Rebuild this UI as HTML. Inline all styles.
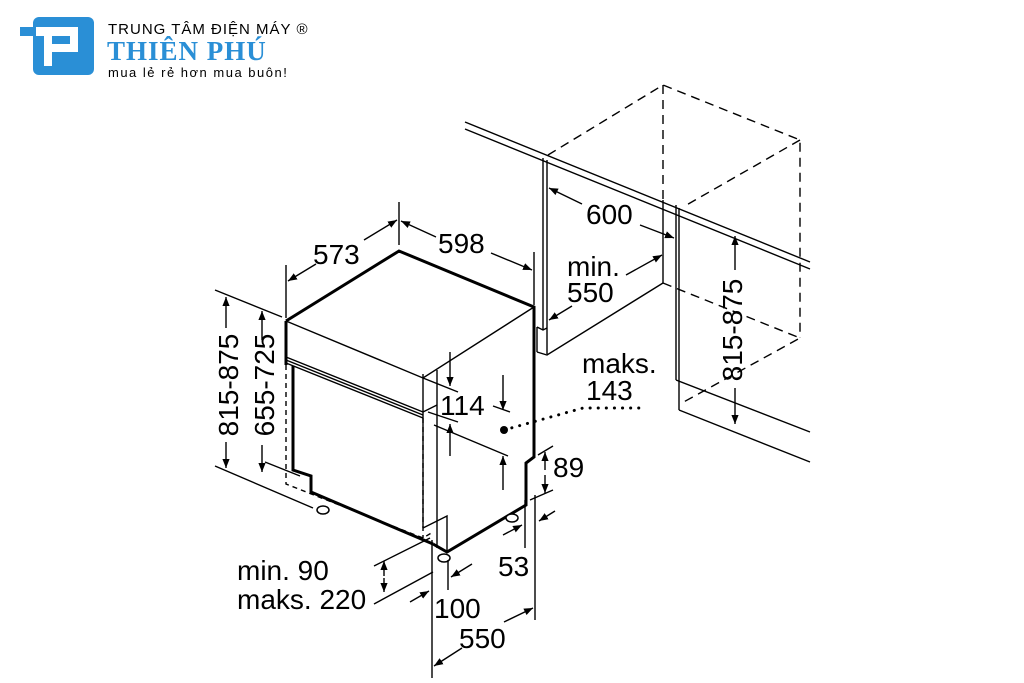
<!DOCTYPE html>
<html><head><meta charset="utf-8"><style>
html,body{margin:0;padding:0;background:#fff;width:1024px;height:683px;overflow:hidden}
svg{display:block}
text{font-family:"Liberation Sans",sans-serif;fill:#000}
</style></head><body>
<svg width="1024" height="683" viewBox="0 0 1024 683" xmlns="http://www.w3.org/2000/svg">
<defs>
<marker id="a" viewBox="0 0 10 10" refX="10" refY="5" markerWidth="9" markerHeight="9" orient="auto-start-reverse" markerUnits="userSpaceOnUse"><path d="M0,1 L10,5 L0,9 z" fill="#000"/></marker>
</defs>
<!-- logo -->
<rect x="33" y="17" width="61" height="58" rx="6" fill="#2a8fd6"/>
<rect x="20" y="27" width="16" height="9" fill="#2a8fd6"/>
<path d="M36 27 H78 V52 H52 V66 H44 V36 H36 z" fill="#fff"/>
<rect x="52" y="36" width="18" height="8" fill="#2a8fd6"/>
<text x="108" y="34" font-size="15" letter-spacing="1">TRUNG TÂM ĐIỆN MÁY ®</text>
<text x="107" y="60" font-size="27" font-weight="bold" fill="#2a8fd6" style="fill:#2a8fd6;font-family:'Liberation Serif',serif" letter-spacing="1">THIÊN PHÚ</text>
<text x="108" y="77" font-size="13" letter-spacing="1.5">mua lẻ rẻ hơn mua buôn!</text>

<g fill="none" stroke="#000" stroke-width="1.4">
<line x1="465" y1="122" x2="810" y2="262"/>
<line x1="465" y1="129" x2="810" y2="269"/>
<line x1="543" y1="158" x2="543" y2="330"/>
<line x1="547" y1="160" x2="547" y2="354"/>
<path d="M537 327 L543 330 L547 328"/>
<line x1="537" y1="327" x2="537" y2="352"/>
<path d="M537 352 L547 355 L663 283"/>
<line x1="663" y1="200" x2="663" y2="283"/>
<line x1="676" y1="205" x2="676" y2="380"/>
<line x1="679" y1="208" x2="679" y2="410"/>
<path d="M676 380 L810 432"/>
<path d="M679 410 L810 462"/>
</g>
<g fill="none" stroke="#000" stroke-width="1.4" stroke-dasharray="9,6">
<path d="M548 155 L663 85 L800 140 L800 338"/>
<line x1="663" y1="85" x2="663" y2="200"/>
<path d="M663 283 L800 338 L680 404"/>
<line x1="800" y1="140" x2="683" y2="207"/>
</g>

<g fill="none" stroke="#000" stroke-width="3">
<path d="M286 321 L399 251 L534 307 L534 457 L526 463 L526 505 L447 552 L433 544"/>
<path d="M286 321 L286 365"/>
<path d="M293 366 L293 470 L311 476 L311 492 L433 544"/>
</g>
<g fill="none" stroke="#000" stroke-width="1.4">
<path d="M286 321 L423 378 L534 307"/>
<line x1="423" y1="374" x2="423" y2="528"/>
<line x1="437" y1="370" x2="437" y2="548"/>
<path d="M286 357 L423 412 L437 405"/>
<path d="M286 360 L423 415"/>
<path d="M286 363 L423 418"/>
<path d="M423 528 L447 516 L447 552"/>
</g>
<g fill="none" stroke="#000" stroke-width="1.4" stroke-dasharray="5,4">
<path d="M286 365 L286 484 L423 538 L433 532"/>
<path d="M423 418 L423 538"/>
<line x1="311" y1="492" x2="423" y2="540"/>
</g>
<g fill="#fff" stroke="#000" stroke-width="1.5">
<ellipse cx="323" cy="510" rx="6" ry="4"/><ellipse cx="444" cy="558" rx="6" ry="4"/><ellipse cx="512" cy="518" rx="6" ry="4"/>
</g>

<g fill="none" stroke="#000" stroke-width="1.4">
<line x1="286" y1="265" x2="286" y2="318"/>
<line x1="399" y1="202" x2="399" y2="245"/>
<line x1="534" y1="252" x2="534" y2="305"/>
<line x1="364" y1="240" x2="397" y2="220" marker-end="url(#a)"/>
<line x1="316" y1="264" x2="288" y2="281" marker-end="url(#a)"/>
<line x1="436" y1="237" x2="401" y2="221" marker-end="url(#a)"/>
<line x1="491" y1="253" x2="532" y2="270" marker-end="url(#a)"/>
<line x1="582" y1="204" x2="549" y2="188" marker-end="url(#a)"/>
<line x1="640" y1="225" x2="674" y2="238" marker-end="url(#a)"/>
<line x1="626" y1="275" x2="662" y2="255" marker-end="url(#a)"/>
<line x1="572" y1="306" x2="549" y2="320" marker-end="url(#a)"/>
<line x1="735" y1="270" x2="735" y2="236" marker-end="url(#a)"/>
<line x1="735" y1="388" x2="735" y2="424" marker-end="url(#a)"/>
<line x1="215" y1="290" x2="282" y2="317"/>
<line x1="215" y1="466" x2="313" y2="508"/>
<line x1="265" y1="462" x2="300" y2="476"/>
<line x1="226" y1="328" x2="226" y2="297" marker-end="url(#a)"/>
<line x1="226" y1="442" x2="226" y2="468" marker-end="url(#a)"/>
<line x1="262" y1="340" x2="262" y2="311" marker-end="url(#a)"/>
<line x1="262" y1="445" x2="262" y2="472" marker-end="url(#a)"/>
<line x1="423" y1="378" x2="458" y2="392"/>
<line x1="428" y1="412" x2="458" y2="422"/>
<line x1="434" y1="425" x2="508" y2="456"/>
<line x1="493" y1="406" x2="510" y2="412"/>
<line x1="450" y1="352" x2="450" y2="386" marker-end="url(#a)"/>
<line x1="450" y1="456" x2="450" y2="424" marker-end="url(#a)"/>
<line x1="503" y1="375" x2="503" y2="410" marker-end="url(#a)"/>
<line x1="503" y1="490" x2="503" y2="456" marker-end="url(#a)"/>
<line x1="538" y1="455" x2="553" y2="446"/>
<line x1="530" y1="500" x2="553" y2="490"/>
<line x1="545" y1="470" x2="545" y2="452" marker-end="url(#a)"/>
<line x1="545" y1="475" x2="545" y2="493" marker-end="url(#a)"/>
<line x1="525" y1="500" x2="525" y2="548"/>
<line x1="535" y1="495" x2="535" y2="620"/>
<line x1="432" y1="540" x2="432" y2="678"/>
<line x1="448" y1="560" x2="448" y2="590"/>
<line x1="555" y1="511" x2="539" y2="521" marker-end="url(#a)"/>
<line x1="503" y1="535" x2="522" y2="525" marker-end="url(#a)"/>
<line x1="472" y1="564" x2="451" y2="577" marker-end="url(#a)"/>
<line x1="410" y1="602" x2="429" y2="591" marker-end="url(#a)"/>
<line x1="504" y1="622" x2="533" y2="608" marker-end="url(#a)"/>
<line x1="462" y1="648" x2="434" y2="666" marker-end="url(#a)"/>
<line x1="374" y1="566" x2="430" y2="538"/>
<line x1="374" y1="604" x2="433" y2="572"/>
<line x1="384" y1="576" x2="384" y2="561" marker-end="url(#a)"/>
<line x1="384" y1="578" x2="384" y2="592" marker-end="url(#a)"/>
</g>
<path d="M504 430 L583 408 L640 408" fill="none" stroke="#000" stroke-width="3" stroke-dasharray="0.1,8" stroke-linecap="round"/>
<circle cx="504" cy="430" r="4" fill="#000"/>

<g font-size="28">
<text x="313" y="264">573</text>
<text x="438" y="253">598</text>
<text x="586" y="224">600</text>
<text x="567" y="276">min.</text>
<text x="567" y="302">550</text>
<text x="582" y="373">maks.</text>
<text x="586" y="400">143</text>
<text x="440" y="415">114</text>
<text x="553" y="477">89</text>
<text x="498" y="576">53</text>
<text x="237" y="580">min. 90</text>
<text x="237" y="609">maks. 220</text>
<text x="434" y="618">100</text>
<text x="459" y="648">550</text>
<text transform="translate(238,385) rotate(-90)" text-anchor="middle">815-875</text>
<text transform="translate(274,385) rotate(-90)" text-anchor="middle">655-725</text>
<text transform="translate(742,330) rotate(-90)" text-anchor="middle">815-875</text>
</g>
</svg>
</body></html>
